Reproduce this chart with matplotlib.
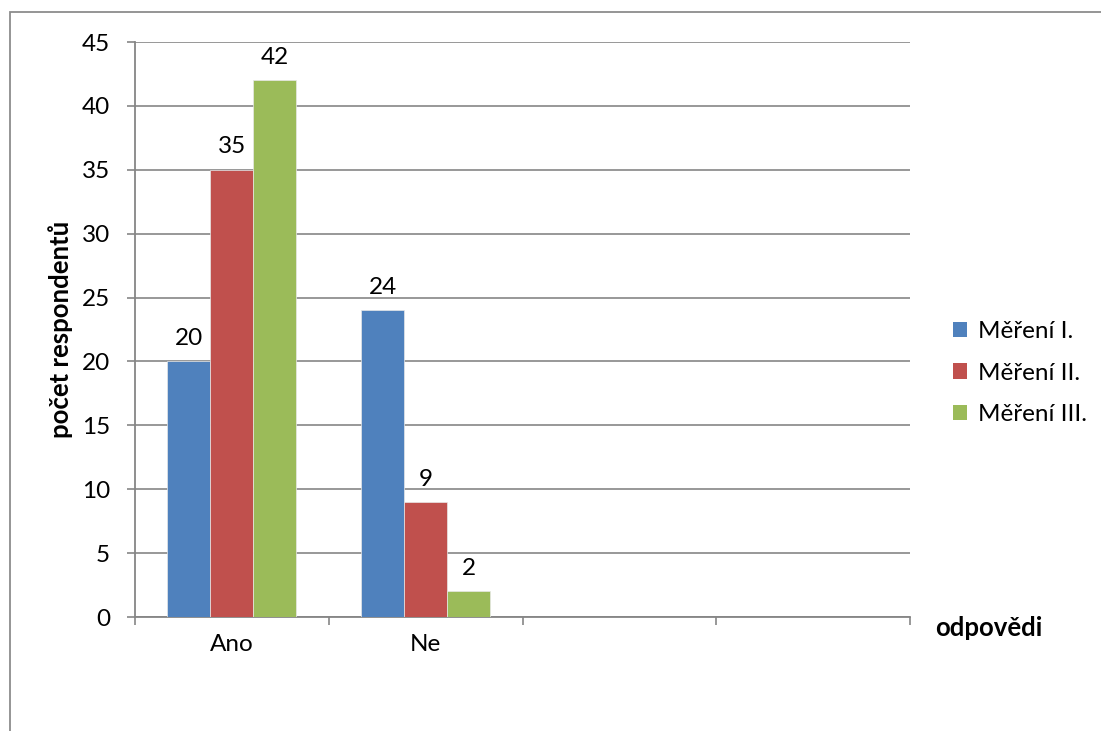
import matplotlib
matplotlib.use("Agg")
import matplotlib.pyplot as plt
from matplotlib.patches import Rectangle, Patch
import numpy as np

categories = ["Ano", "Ne", "", ""]
series_names = ["Měření I.", "Měření II.", "Měření III."]
values_I = [20, 24]
values_II = [35, 9]
values_III = [42, 2]
colors = ["#4F81BD", "#C0504D", "#9BBB59"]
yticks = [0, 5, 10, 15, 20, 25, 30, 35, 40, 45]

plt.rcParams['font.family'] = ['Lato', 'DejaVu Sans']

fig = plt.figure(figsize=(11.01, 7.31), dpi=100)
W, H = 1101, 731
ax = fig.add_axes([135 / W, (H - 617) / H, 775 / W, 575 / H])

# outer chart border
fig.patches.append(Rectangle((10 / W, -0.1), 1.2, 1.1 - 12 / H,
                             transform=fig.transFigure, fill=False,
                             edgecolor="#8c8c8c", linewidth=1.3, zorder=0))

FS = 17.5
bw = 0.222
series = [values_I, values_II, values_III]
x = np.arange(len(values_I))
for i, (vals, c, name) in enumerate(zip(series, colors, series_names)):
    pos = x + (i - 1) * bw
    ax.bar(pos, vals, width=bw, color=c, edgecolor="#e8e8e8",
           linewidth=0.5, label=name, zorder=3)
    for xp, v in zip(pos, vals):
        ax.annotate(str(v), (xp, v), xytext=(0, 9), textcoords="offset points",
                    ha="center", va="bottom", fontsize=FS, color="black")

ax.set_xlim(-0.5, len(categories) - 0.5)
ax.set_ylim(0, 45)
ax.set_yticks(yticks)
ax.set_yticklabels([str(t) for t in yticks], fontsize=FS)
ax.yaxis.grid(True, color="#868686", linewidth=1.2, zorder=0)
ax.set_axisbelow(True)

ax.set_xticks(np.arange(len(categories)))
ax.set_xticklabels(categories, fontsize=FS)
ax.tick_params(axis="x", length=0, pad=12)
ax.set_xticks(np.arange(len(categories) + 1) - 0.5, minor=True)
ax.tick_params(axis="x", which="minor", length=6, width=1.2, color="#868686", direction="out")
ax.tick_params(axis="y", length=6, width=1.2, color="#868686", direction="out", pad=12)

for s in ["top", "right"]:
    ax.spines[s].set_visible(False)
for s in ["left", "bottom"]:
    ax.spines[s].set_color("#868686")
    ax.spines[s].set_linewidth(1.3)

ax.set_ylabel("počet respondentů", fontsize=18.5, fontweight="bold")
ax.yaxis.set_label_coords((73 - 135) / 775, 0.5)
fig.text(935 / W, 1 - 628 / H, "odpovědi", fontsize=18.5, fontweight="bold",
         ha="left", va="center")

handles = [Patch(facecolor=c, edgecolor="none") for c in colors]
fig.legend(handles, series_names, loc="center left",
           bbox_to_anchor=(931 / W, 1 - 373 / H), frameon=False,
           fontsize=FS, handlelength=0.6, handleheight=0.6,
           handletextpad=0.45, labelspacing=0.85)

fig.savefig("out.png", dpi=100)
